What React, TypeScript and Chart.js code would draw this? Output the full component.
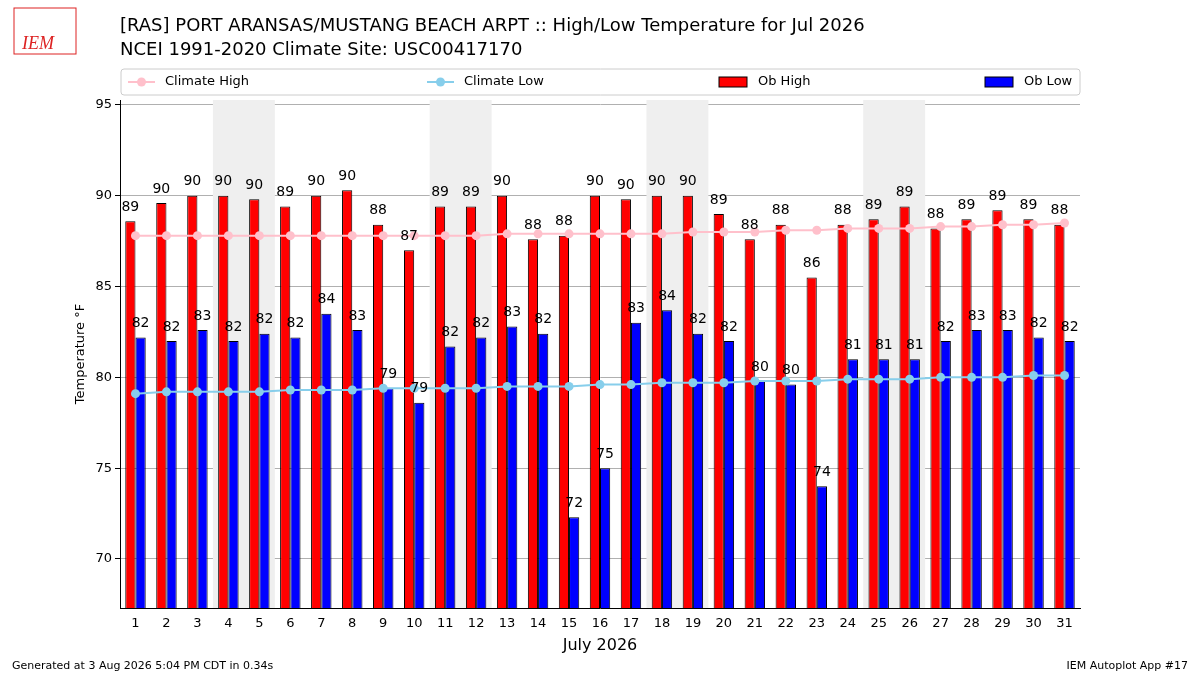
import React, { useEffect, useRef } from "react";
import { Chart, registerables } from "chart.js";
Chart.register(...registerables);

const days = Array.from({ length: 31 }, (_, i) => String(i + 1));
const obHigh = [88.6, 89.6, 90.0, 90.0, 89.8, 89.4, 90.0, 90.3, 88.4, 87.0, 89.4, 89.4, 90.0, 87.6, 87.8, 90.0, 89.8, 90.0, 90.0, 89.0, 87.6, 88.4, 85.5, 88.4, 88.7, 89.4, 88.2, 88.7, 89.2, 88.7, 88.4];
const obLow = [82.2, 82.0, 82.6, 82.0, 82.4, 82.2, 83.5, 82.6, 79.4, 78.6, 81.7, 82.2, 82.8, 82.4, 72.3, 75.0, 83.0, 83.7, 82.4, 82.0, 79.8, 79.6, 74.0, 81.0, 81.0, 81.0, 82.0, 82.6, 82.6, 82.2, 82.0];
const climHigh = [87.8, 87.8, 87.8, 87.8, 87.8, 87.8, 87.8, 87.8, 87.8, 87.8, 87.8, 87.8, 87.9, 87.9, 87.9, 87.9, 87.9, 87.9, 88.0, 88.0, 88.0, 88.1, 88.1, 88.2, 88.2, 88.2, 88.3, 88.3, 88.4, 88.4, 88.5];
const climLow = [79.1, 79.2, 79.2, 79.2, 79.2, 79.3, 79.3, 79.3, 79.4, 79.4, 79.4, 79.4, 79.5, 79.5, 79.5, 79.6, 79.6, 79.7, 79.7, 79.7, 79.8, 79.8, 79.8, 79.9, 79.9, 79.9, 80.0, 80.0, 80.0, 80.1, 80.1];
const weekends = [[4, 5], [11, 12], [18, 19], [25, 26]];
const yTicks = [70, 75, 80, 85, 90, 95];
const FONT = "DejaVu Sans";

export default function App() {
  const ref = useRef<HTMLCanvasElement>(null);
  useEffect(() => {
    const shade = {
      id: "shade",
      beforeDatasetsDraw(c: any) {
        const { ctx, chartArea: a, scales } = c;
        const x = scales.x;
        ctx.save();
        ctx.fillStyle = "#efefef";
        for (const [s, e] of weekends) {
          const x0 = x.getPixelForValue(s - 1) - x.width / 62;
          const x1 = x.getPixelForValue(e - 1) + x.width / 62;
          ctx.fillRect(x0, a.top, x1 - x0, a.bottom - a.top);
        }
        ctx.restore();
      },
    };
    const deco = {
      id: "deco",
      afterDatasetsDraw(c: any) {
        const { ctx } = c;
        ctx.save();
        ctx.fillStyle = "#000";
        ctx.font = `14px ${FONT}`;
        ctx.textAlign = "center";
        ctx.textBaseline = "bottom";
        [0, 1].forEach((di) => {
          const meta = c.getDatasetMeta(di);
          const vals = di === 0 ? obHigh : obLow;
          meta.data.forEach((el: any, i: number) => {
            ctx.fillText(String(Math.round(vals[i])), el.x, el.y - 7);
          });
        });
        ctx.restore();
      },
      afterDraw(c: any) {
        const { ctx } = c;
        ctx.save();
        ctx.fillStyle = "#000";
        ctx.textBaseline = "alphabetic";
        ctx.textAlign = "left";
        ctx.font = `18px ${FONT}`;
        ctx.fillText("[RAS] PORT ARANSAS/MUSTANG BEACH ARPT :: High/Low Temperature for Jul 2026", 120, 31);
        ctx.fillText("NCEI 1991-2020 Climate Site: USC00417170", 120, 55);
        ctx.font = `16px ${FONT}`;
        ctx.textAlign = "center";
        ctx.fillText("July 2026", 600, 650);
        ctx.save();
        ctx.translate(84, 354);
        ctx.rotate(-Math.PI / 2);
        ctx.font = `13px ${FONT}`;
        ctx.fillText("Temperature °F", 0, 0);
        ctx.restore();
        ctx.textAlign = "left";
        ctx.font = `11px ${FONT}`;
        ctx.fillText("Generated at 3 Aug 2026 5:04 PM CDT in 0.34s", 12, 669);
        ctx.textAlign = "right";
        ctx.fillText("IEM Autoplot App #17", 1188, 669);
        // logo
        ctx.textAlign = "left";
        ctx.fillStyle = "#d22";
        ctx.font = `italic 18px serif`;
        ctx.fillText("IEM", 22, 49);
        ctx.strokeStyle = "#d22";
        ctx.lineWidth = 1;
        ctx.strokeRect(14, 8, 62, 46);
        // legend
        ctx.strokeStyle = "#ccc";
        ctx.beginPath();
        (ctx as any).roundRect(121, 69, 959, 26, 3);
        ctx.stroke();
        ctx.font = `13px ${FONT}`;
        ctx.fillStyle = "#000";
        ctx.textBaseline = "middle";
        const ly = 82;
        const lines = [["Climate High", "pink", 128], ["Climate Low", "skyblue", 427]];
        for (const [t, col, x] of lines as any) {
          ctx.strokeStyle = col; ctx.lineWidth = 2;
          ctx.beginPath(); ctx.moveTo(x, ly); ctx.lineTo(x + 27, ly); ctx.stroke();
          ctx.fillStyle = col; ctx.beginPath(); ctx.arc(x + 13.5, ly, 4.5, 0, Math.PI * 2); ctx.fill();
          ctx.fillStyle = "#000"; ctx.fillText(t, x + 37, ly);
        }
        const boxes = [["Ob High", "red", 719], ["Ob Low", "blue", 985]];
        for (const [t, col, x] of boxes as any) {
          ctx.fillStyle = col; ctx.fillRect(x, ly - 5, 28, 10);
          ctx.strokeStyle = "#000"; ctx.lineWidth = 1; ctx.strokeRect(x, ly - 5, 28, 10);
          ctx.fillStyle = "#000"; ctx.fillText(t, x + 39, ly);
        }
        ctx.restore();
      },
    };
    const barOpts = { borderColor: "#000", borderWidth: 1, borderSkipped: false, categoryPercentage: 0.66, barPercentage: 1.0, order: 2 };
    const chart = new Chart(ref.current!, {
      type: "bar",
      data: {
        labels: days,
        datasets: [
          { type: "bar", label: "Ob High", data: obHigh, backgroundColor: "red", ...barOpts } as any,
          { type: "bar", label: "Ob Low", data: obLow, backgroundColor: "blue", ...barOpts } as any,
          { type: "line", label: "Climate High", data: climHigh, borderColor: "pink", backgroundColor: "pink", borderWidth: 2, pointRadius: 4.5, pointBorderWidth: 0, order: 1 } as any,
          { type: "line", label: "Climate Low", data: climLow, borderColor: "skyblue", backgroundColor: "skyblue", borderWidth: 2, pointRadius: 4.5, pointBorderWidth: 0, order: 1 } as any,
        ],
      },
      options: {
        animation: false,
        responsive: false,
        layout: { padding: { left: 0, top: 100, right: 120, bottom: 0 } },
        plugins: { legend: { display: false }, tooltip: { enabled: false } },
        scales: {
          x: {
            grid: { display: false, drawTicks: true, tickLength: 5, tickColor: "#000" } as any,
            border: { color: "#000" },
            ticks: { color: "#000", font: { family: FONT, size: 13 }, maxRotation: 0, autoSkip: false },
            afterFit: (s: any) => { s.height = 67; },
          },
          y: {
            min: 67.3, max: 95.27,
            afterBuildTicks: (s: any) => { s.ticks = yTicks.map((v) => ({ value: v })); },
            grid: { color: "#b0b0b0", tickLength: 5, tickColor: "#000" } as any,
            border: { color: "#000" },
            ticks: { color: "#000", font: { family: FONT, size: 13 } },
            afterFit: (s: any) => { s.width = 120; },
          },
        },
      },
      plugins: [shade, deco],
    });
    return () => chart.destroy();
  }, []);
  return (
    <div style={{ position: "fixed", left: 0, top: 0, width: 1200, height: 675, background: "#fff" }}>
      <canvas ref={ref} width={1200} height={675} style={{ width: 1200, height: 675 }} />
    </div>
  );
}
